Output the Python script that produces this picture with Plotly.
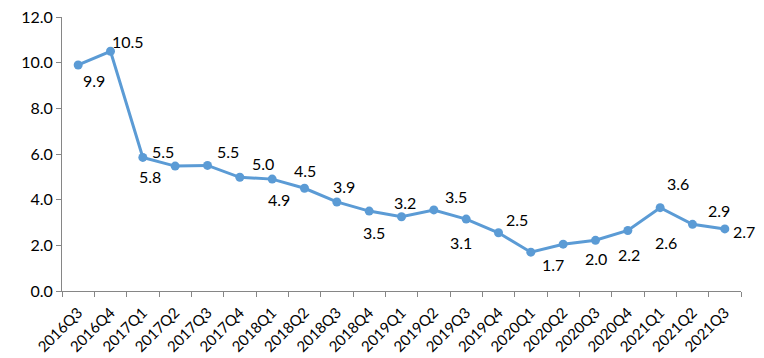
import plotly.graph_objects as go

quarters = ["2016Q3", "2016Q4", "2017Q1", "2017Q2", "2017Q3", "2017Q4", "2018Q1",
            "2018Q2", "2018Q3", "2018Q4", "2019Q1", "2019Q2", "2019Q3", "2019Q4",
            "2020Q1", "2020Q2", "2020Q3", "2020Q4", "2021Q1", "2021Q2", "2021Q3"]
values = [9.9, 10.5, 5.85, 5.47, 5.5, 4.98, 4.9, 4.5, 3.9, 3.5, 3.25, 3.55, 3.15,
          2.55, 1.7, 2.05, 2.22, 2.65, 3.65, 2.92, 2.72]
labels = ["9.9", "10.5", "5.8", "5.5", "5.5", "5.0", "4.9", "4.5", "3.9", "3.5", "3.2",
          "3.5", "3.1", "2.5", "1.7", "2.0", "2.2", "2.6", "3.6", "2.9", "2.7"]
# label offsets in pixels (dx, dy downward)
label_dx = [16, 17, 7, -12, 20, 23, 7, 0, 7, 5, 3, 22, -5, 18, 22, 33, 33, 38, 18, 26, 19]
label_dy = [16, -10, 19, -15, -14, -14, 20, -18, -15, 21, -14, -13, 23, -13, 12, 14, 14, 12, -24, -14, 3]

FONT = "Lato"
fig = go.Figure()
fig.add_trace(go.Scatter(
    x=quarters, y=values, mode="lines+markers",
    line=dict(color="#5B9BD5", width=3),
    marker=dict(color="#5B9BD5", size=9),
    hoverinfo="skip",
))
for q, v, t, dx, dy in zip(quarters, values, labels, label_dx, label_dy):
    fig.add_annotation(x=q, y=v, text=t, showarrow=False, xshift=dx, yshift=-dy,
                       font=dict(family=FONT, size=16, color="#000000"))

fig.update_layout(
    width=764, height=358,
    margin=dict(l=62, r=23, t=17, b=67, autoexpand=False),
    paper_bgcolor="white", plot_bgcolor="white",
    showlegend=False,
    font=dict(family=FONT, color="#000000"),
)
fig.update_xaxes(
    type="category", tickson="boundaries", ticks="outside", ticklen=5,
    tickcolor="#868686", showline=True, linecolor="#868686", linewidth=1,
    showgrid=False, tickangle=-45, ticklabelstandoff=6,
    tickfont=dict(family=FONT, size=15, color="#000000"),
    range=[-0.5, len(quarters) - 0.5], automargin=False,
)
fig.update_yaxes(
    range=[0, 12], dtick=2, tickformat=".1f", ticks="outside", ticklen=5,
    tickcolor="#868686", showline=True, linecolor="#868686", linewidth=1,
    showgrid=False, zeroline=False, automargin=False,
    tickfont=dict(family=FONT, size=16, color="#000000"),
)
fig.write_html("out.html", config={"displayModeBar": False},
               post_script="document.body.style.margin='0';")
